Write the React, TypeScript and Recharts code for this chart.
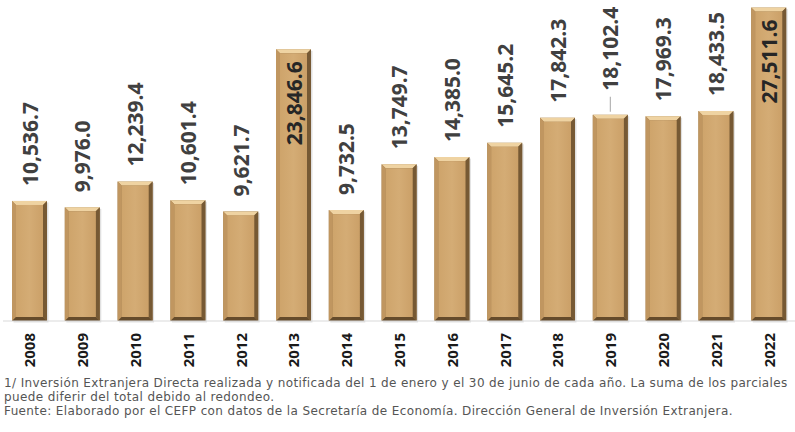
import React from 'react';
import { BarChart, Bar, XAxis, YAxis, LabelList } from 'recharts';

const years = ['2008', '2009', '2010', '2011', '2012', '2013', '2014', '2015', '2016', '2017', '2018', '2019', '2020', '2021', '2022'];
const values = [10536.7, 9976.0, 12239.4, 10601.4, 9621.7, 23846.6, 9732.5, 13749.7, 14385.0, 15645.2, 17842.3, 18102.4, 17969.3, 18433.5, 27511.6];
const insideLabelYears = ['2013', '2022'];
const leaderLineYears = ['2019'];
const footnotes = [
  '1/ Inversión Extranjera Directa realizada y notificada del 1 de enero y el 30 de junio de cada año. La suma de los parciales',
  'puede diferir del total debido al redondeo.',
  'Fuente: Elaborado por el CEFP con datos de la Secretaría de Economía. Dirección General de Inversión Extranjera.',
];

const data = years.map((year, i) => ({ year, value: values[i] }));

const fmt = (v: number) => {
  const [int, dec] = v.toFixed(1).split('.');
  return int.replace(/\B(?=(\d{3})+(?!\d))/g, ',') + '.' + dec;
};

const BevelBar = (props: any) => {
  const { x, y, width, height } = props;
  if (!height || height <= 0) return null;
  const b = 4;
  const x2 = x + width;
  const y2 = y + height;
  return (
    <g>
      <rect x={x + 1.5} y={y + 1.5} width={width} height={height} fill="#000" opacity={0.12} />
      <rect x={x} y={y} width={width} height={height} fill="#9c7a4b" />
      <polygon points={`${x},${y} ${x2},${y} ${x2 - b},${y + b} ${x + b},${y + b}`} fill="#efd3a2" />
      <polygon points={`${x},${y} ${x + b},${y + b} ${x + b},${y2 - b} ${x},${y2}`} fill="#c09660" />
      <polygon points={`${x2},${y} ${x2},${y2} ${x2 - b},${y2 - b} ${x2 - b},${y + b}`} fill="#765934" />
      <polygon points={`${x},${y2} ${x + b},${y2 - b} ${x2 - b},${y2 - b} ${x2},${y2}`} fill="#654b2b" />
      <rect x={x + b} y={y + b} width={width - 2 * b} height={height - 2 * b} fill="url(#faceGrad)" />
    </g>
  );
};

const ValueLabel = (props: any) => {
  const { x, y, width, value, index } = props;
  const year = years[index];
  const cx = x + width / 2;
  if (insideLabelYears.includes(year)) {
    return (
      <text
        transform={`translate(${cx},${y + 12}) rotate(-90)`}
        textAnchor="end"
        dominantBaseline="central"
        fontFamily="'Noto Sans', sans-serif"
        fontWeight={700}
        fontSize={21}
        fill="#262626"
      >
        {fmt(value)}
      </text>
    );
  }
  const lead = leaderLineYears.includes(year);
  const gap = lead ? 24 : 15;
  return (
    <g>
      {lead && <line x1={cx} x2={cx} y1={y - 3} y2={y - gap + 6} stroke="#a6a6a6" strokeWidth={1} />}
      <text
        transform={`translate(${cx},${y - gap}) rotate(-90)`}
        textAnchor="start"
        dominantBaseline="central"
        fontFamily="'Noto Sans', sans-serif"
        fontWeight={700}
        fontSize={21}
        fill="#404040"
      >
        {fmt(value)}
      </text>
    </g>
  );
};

const YearTick = (props: any) => {
  const { x, payload } = props;
  return (
    <text
      transform={`translate(${x},333) rotate(-90)`}
      textAnchor="end"
      dominantBaseline="central"
      fontFamily="'Noto Sans', sans-serif"
      fontWeight={700}
      fontSize={15}
      fill="#1a1a1a"
    >
      {payload.value}
    </text>
  );
};

export default function App() {
  return (
    <div style={{ position: 'absolute', left: 0, top: 0, width: 795, height: 432, background: '#fff', overflow: 'hidden' }}>
      <BarChart width={795} height={380} data={data} margin={{ top: 2, right: 0, left: 3, bottom: 0 }}>
        <defs>
          <linearGradient id="faceGrad" x1="0" y1="0" x2="1" y2="0">
            <stop offset="0%" stopColor="#cea46b" />
            <stop offset="50%" stopColor="#d4ac75" />
            <stop offset="100%" stopColor="#cba068" />
          </linearGradient>
        </defs>
        <XAxis
          dataKey="year"
          height={59}
          axisLine={{ stroke: '#d9d9d9', strokeWidth: 1 }}
          tickLine={false}
          tick={<YearTick />}
          interval={0}
        />
        <YAxis hide domain={[0, 28000]} />
        <Bar dataKey="value" barSize={35} shape={<BevelBar />} isAnimationActive={false}>
          <LabelList dataKey="value" content={<ValueLabel />} />
        </Bar>
      </BarChart>
      <div
        style={{
          position: 'absolute',
          left: 4,
          top: 376,
          width: 790,
          fontFamily: "'DejaVu Sans', sans-serif",
          fontSize: 12,
          letterSpacing: '0.38px',
          lineHeight: '14px',
          color: '#555',
          whiteSpace: 'nowrap',
        }}
      >
        {footnotes.map((t, i) => (
          <div key={i}>{t}</div>
        ))}
      </div>
    </div>
  );
}
